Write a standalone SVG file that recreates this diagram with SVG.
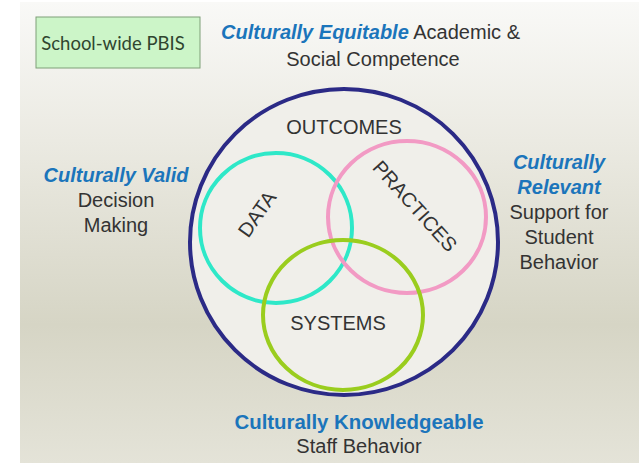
<svg xmlns="http://www.w3.org/2000/svg" width="639" height="463" viewBox="0 0 639 463">
  <defs>
    <linearGradient id="bg" x1="0" y1="0" x2="0" y2="1">
      <stop offset="0" stop-color="#f9f9f7"/>
      <stop offset="0.3" stop-color="#ebeae2"/>
      <stop offset="0.7" stop-color="#d6d5c5"/>
      <stop offset="1" stop-color="#e4e3d8"/>
    </linearGradient>
    <style>
      .lbl { font-family: "Liberation Sans", Arial, sans-serif; font-size: 20px; fill: #333333; }
      .hl { font-weight: bold; font-style: italic; fill: #1b75bb; }
      .hlb { font-weight: bold; fill: #1b75bb; }
      .ring { fill: none; stroke-width: 4; }
      .c { text-anchor: middle; }
    </style>
  </defs>

  <!-- backdrop panel -->
  <rect x="0" y="0" width="639" height="463" fill="#ffffff"/>
  <rect x="20" y="2" width="619" height="461" fill="url(#bg)"/>

  <!-- title tag -->
  <g id="tag">
    <rect x="36" y="17" width="164" height="51" fill="#ccf5c8" stroke="#7f9f78" stroke-width="1"/>
    <text x="113" y="50" text-anchor="middle" font-family="Lato, 'Open Sans', sans-serif" font-size="18.5" fill="#2f452f">School-wide PBIS</text>
  </g>

  <!-- outcomes circle -->
  <g id="outcomes">
    <ellipse cx="344" cy="242" rx="154" ry="153" fill="#f0efea" stroke="#2b2a86" stroke-width="4"/>
    <text class="lbl c" x="344" y="134">OUTCOMES</text>
  </g>

  <g id="data">
    <ellipse class="ring" cx="276" cy="228" rx="76" ry="75" stroke="#2ee8c8"/>
    <text class="lbl c" transform="translate(257,214) rotate(-55)" y="7">DATA</text>
  </g>

  <g id="practices">
    <ellipse class="ring" cx="407" cy="217" rx="79" ry="76" stroke="#f29ac4"/>
    <text class="lbl c" transform="translate(415,206) rotate(48)" y="7">PRACTICES</text>
  </g>

  <g id="systems">
    <ellipse class="ring" cx="343" cy="315" rx="80" ry="75" stroke="#9acd1e"/>
    <text class="lbl c" x="338" y="330">SYSTEMS</text>
  </g>

  <!-- surrounding labels -->
  <g id="equitable">
    <text class="lbl" x="221" y="39"><tspan class="hl">Culturally Equitable</tspan> Academic &amp;</text>
    <text class="lbl c" x="373" y="66">Social Competence</text>
  </g>

  <g id="valid">
    <text class="lbl c hl" x="116" y="182">Culturally Valid</text>
    <text class="lbl c" x="116" y="207">Decision</text>
    <text class="lbl c" x="116" y="232">Making</text>
  </g>

  <g id="relevant">
    <text class="lbl c hl" x="559" y="169">Culturally</text>
    <text class="lbl c hl" x="559" y="194">Relevant</text>
    <text class="lbl c" x="559" y="219">Support for</text>
    <text class="lbl c" x="559" y="244">Student</text>
    <text class="lbl c" x="559" y="269">Behavior</text>
  </g>

  <g id="knowledgeable">
    <text class="lbl c hlb" x="359" y="429" textLength="249" lengthAdjust="spacingAndGlyphs">Culturally Knowledgeable</text>
    <text class="lbl c" x="359" y="453">Staff Behavior</text>
  </g>
</svg>
